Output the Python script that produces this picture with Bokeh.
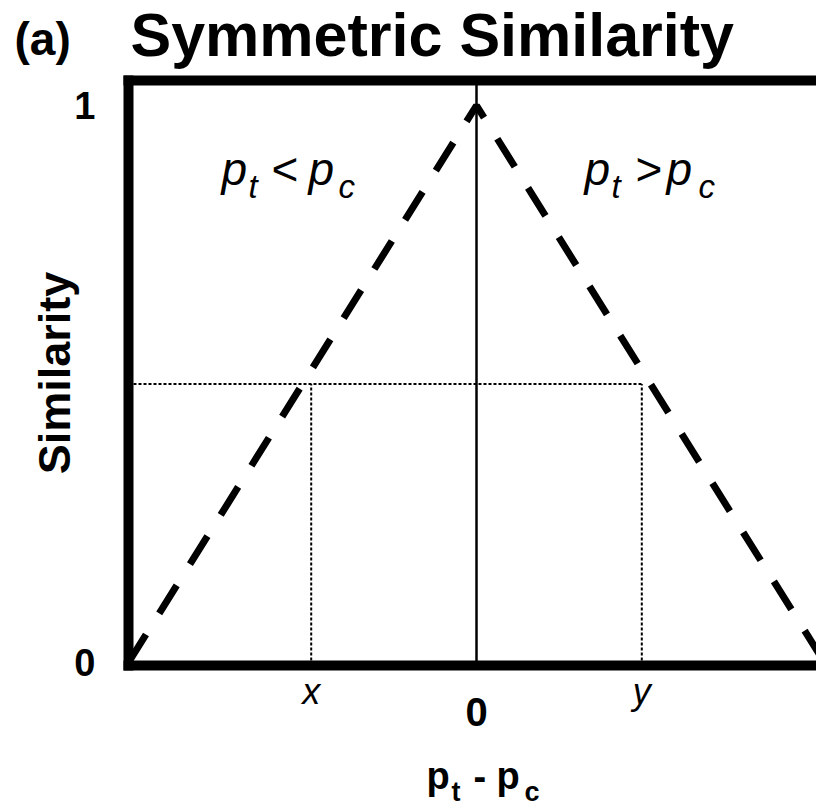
from bokeh.plotting import figure
from bokeh.models import LinearAxis, FixedTicker, Range1d, Label
from bokeh.embed import file_html
from bokeh.resources import INLINE

# ---------------- data ----------------
diff = [-1.0, 0.0, 1.0]            # p_t - p_c
similarity = [0.0, 1.0, 0.0]       # symmetric similarity
threshold = 0.5                    # similarity level of the dotted guide
x_point = -0.475                   # "x"
y_point = 0.475                    # "y"
x_tick_values = [x_point, y_point]
x_tick_labels = ["x", "y"]
zero_tick = [0.0]
zero_label = ["0"]
y_tick_values = [0, 1]
y_tick_labels = ["0", "1"]

FONT = "Liberation Sans"
W, H = 816, 807
# pixel geometry of the drawing (page px): x=-1 at 128, 348 px per unit; y=0 at 662, 557 px per unit
X_LEFT_PX, X_UNIT = 128.0, 348.0
Y_ZERO_PX, Y_UNIT = 662.0, 557.0
X0 = -1.0 - X_LEFT_PX / X_UNIT
X1 = -1.0 + (W - X_LEFT_PX) / X_UNIT
Y1 = Y_ZERO_PX / Y_UNIT
Y0 = -(H - Y_ZERO_PX) / Y_UNIT

def dx(px):
    return -1.0 + (px - X_LEFT_PX) / X_UNIT

def dy(py):
    return (Y_ZERO_PX - py) / Y_UNIT

Y_BOT = dy(665)     # bottom border
Y_TOP = dy(80)      # top border
X_LEFTB = -1.0      # left border
BW = 10             # border width
HALF_X = (BW / 2) / X_UNIT
HALF_Y = (BW / 2) / Y_UNIT

p = figure(width=W, height=H, x_range=Range1d(X0, X1), y_range=Range1d(Y0, Y1),
           output_backend="svg", toolbar_location=None,
           x_axis_type=None, y_axis_type=None,
           min_border_left=0, min_border_top=0, min_border_right=0, min_border_bottom=0)
p.outline_line_color = None
p.background_fill_color = "white"
p.border_fill_color = "white"

def style_axis(ax):
    ax.major_tick_line_color = None
    ax.minor_tick_line_color = None
    ax.major_tick_out = 0
    ax.major_tick_in = 0
    ax.minor_tick_out = 0
    ax.minor_tick_in = 0
    ax.major_label_text_color = "black"
    ax.major_label_text_font = FONT
    ax.axis_line_color = "black"
    ax.axis_line_width = BW

# left axis (left border)
ya = LinearAxis(ticker=FixedTicker(ticks=y_tick_values),
                major_label_overrides=dict(zip(y_tick_values, y_tick_labels)),
                axis_label="Similarity", fixed_location=X_LEFTB,
                bounds=(Y_BOT - HALF_Y, Y_TOP + HALF_Y))
style_axis(ya)
ya.major_label_text_font_size = "38px"
ya.major_label_text_font_style = "bold"
ya.major_label_standoff = 33
ya.axis_label_text_font = FONT
ya.axis_label_text_font_size = "45px"
ya.axis_label_text_font_style = "bold"
ya.axis_label_text_color = "black"
ya.axis_label_standoff = -9
p.add_layout(ya, "left")

# bottom axis (bottom border) with x / y marks
xa = LinearAxis(ticker=FixedTicker(ticks=x_tick_values),
                major_label_overrides=dict(zip(x_tick_values, x_tick_labels)),
                fixed_location=Y_BOT, bounds=(X_LEFTB - HALF_X, X1))
style_axis(xa)
xa.major_label_text_font_size = "36px"
xa.major_label_text_font_style = "italic"
xa.major_label_standoff = 5
p.add_layout(xa, "below")

# second bottom axis carrying the 0
xb = LinearAxis(ticker=FixedTicker(ticks=zero_tick),
                major_label_overrides=dict(zip(zero_tick, zero_label)),
                fixed_location=Y_BOT, bounds=(X_LEFTB - HALF_X, X1))
style_axis(xb)
xb.axis_line_color = None
xb.major_label_text_font_size = "40px"
xb.major_label_text_font_style = "bold"
xb.major_label_standoff = 32
p.add_layout(xb, "below")

# top border
ta = LinearAxis(ticker=FixedTicker(ticks=[]), fixed_location=Y_TOP,
                bounds=(X_LEFTB - HALF_X, X1))
style_axis(ta)
ta.major_label_text_font_size = "0px"
p.add_layout(ta, "above")

# vertical line at p_t = p_c
p.segment(x0=[0.0], y0=[Y_BOT], x1=[0.0], y1=[Y_TOP], line_color="black", line_width=2.5)

# dotted guides
p.segment(x0=[X_LEFTB, x_point, y_point], y0=[threshold, Y_BOT, Y_BOT],
          x1=[y_point, x_point, y_point], y1=[threshold, threshold, threshold],
          line_color="black", line_width=2, line_dash="3 2")

# the similarity function
p.line(diff, similarity, line_color="black", line_width=7, line_dash="33 25")

# ---- text annotations ----
def put(txt, px, py, size, style="normal"):
    # py is the wanted baseline; Bokeh draws ~0.4 em lower, compensate
    p.add_layout(Label(x=dx(px), y=dy(py - 0.4 * size), text=txt, text_font=FONT,
                       text_font_size=f"{size}px", text_font_style=style, text_color="black",
                       text_align="left", text_baseline="alphabetic"))

# title and panel letter
put("(a)", 14, 57, 46, "bold")
put("Symmetric Similarity", 130, 59, 61, "bold")
# p_t < p_c
put("p", 221, 187, 46, "italic")
put("t", 248, 199, 33, "italic")
put("<", 271, 187, 46)
put("p", 308, 187, 46, "italic")
put("c", 338, 199, 33, "italic")
# p_t > p_c
put("p", 584, 187, 46, "italic")
put("t", 611, 199, 33, "italic")
put(">", 635, 187, 46)
put("p", 666, 187, 46, "italic")
put("c", 698, 199, 33, "italic")
# x-axis title p_t - p_c
put("p", 426, 791, 38, "bold")
put("t", 451, 802, 27, "bold")
put("-", 473, 791, 38, "bold")
put("p", 496, 791, 38, "bold")
put("c", 524, 802, 27, "bold")

open("out.html", "w").write(file_html(p, INLINE))
